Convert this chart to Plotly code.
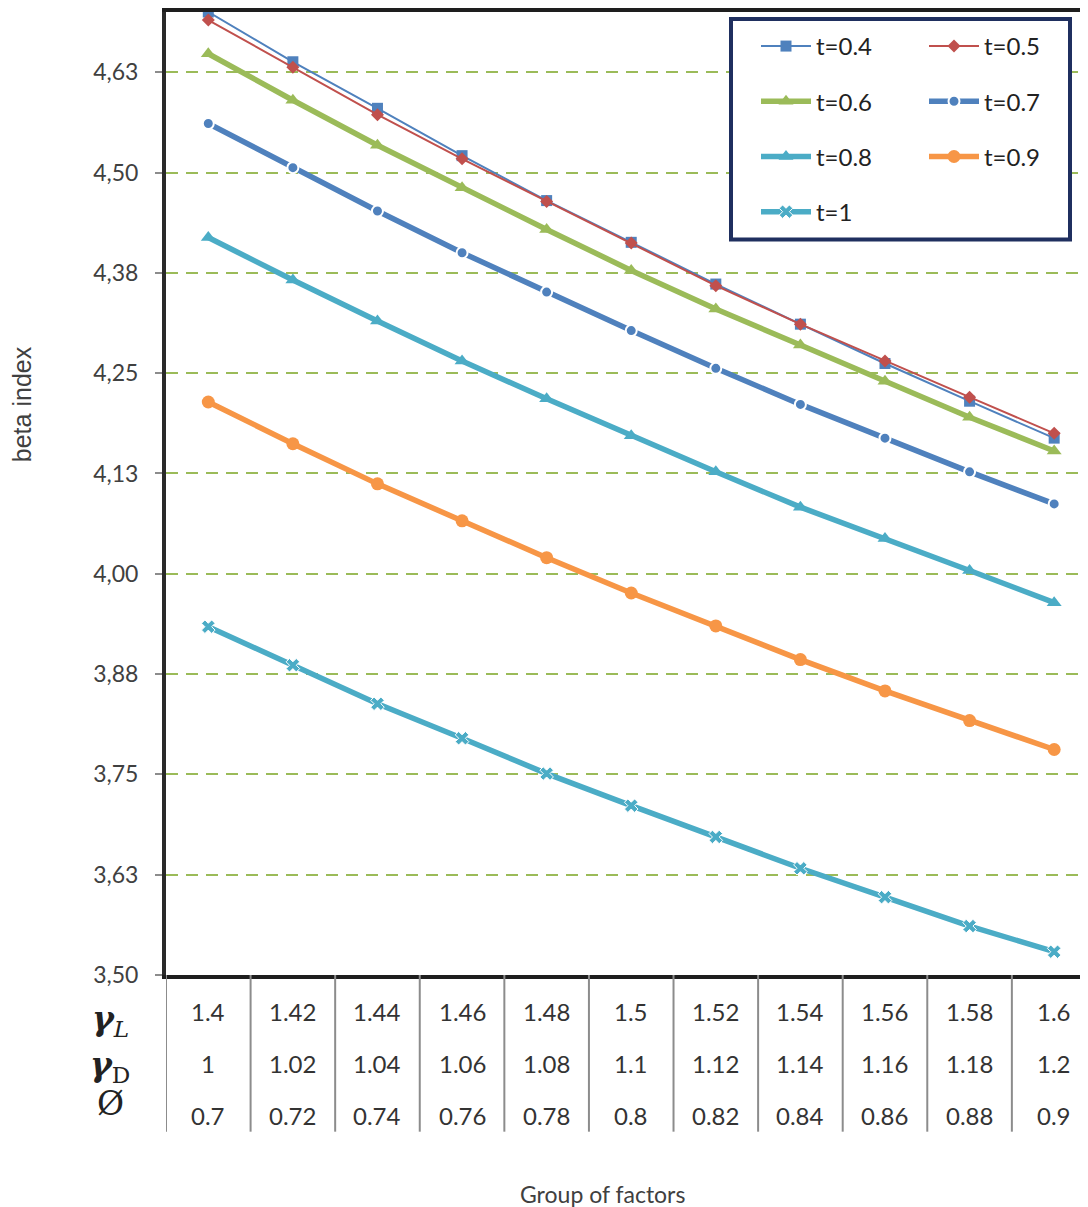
import plotly.graph_objects as go

# ---------------- data ----------------
x_idx = list(range(11))
gamma_L = ["1.4", "1.42", "1.44", "1.46", "1.48", "1.5", "1.52", "1.54", "1.56", "1.58", "1.6"]
gamma_D = ["1", "1.02", "1.04", "1.06", "1.08", "1.1", "1.12", "1.14", "1.16", "1.18", "1.2"]
phi = ["0.7", "0.72", "0.74", "0.76", "0.78", "0.8", "0.82", "0.84", "0.86", "0.88", "0.9"]

t04 = [4.700, 4.638, 4.580, 4.521, 4.465, 4.413, 4.361, 4.311, 4.262, 4.215, 4.169]
t05 = [4.690, 4.631, 4.572, 4.517, 4.464, 4.412, 4.359, 4.311, 4.265, 4.220, 4.175]
t06 = [4.648, 4.590, 4.534, 4.481, 4.429, 4.378, 4.330, 4.285, 4.240, 4.195, 4.153]
t07 = [4.561, 4.506, 4.452, 4.400, 4.351, 4.303, 4.256, 4.211, 4.169, 4.127, 4.087]
t08 = [4.419, 4.366, 4.315, 4.265, 4.218, 4.172, 4.127, 4.083, 4.044, 4.004, 3.964]
t09 = [4.214, 4.162, 4.112, 4.066, 4.020, 3.976, 3.935, 3.893, 3.854, 3.817, 3.781]
t10 = [3.934, 3.886, 3.838, 3.795, 3.751, 3.711, 3.672, 3.633, 3.597, 3.561, 3.529]

y_tickvals = [3.5, 3.625, 3.75, 3.875, 4.0, 4.125, 4.25, 4.375, 4.5, 4.625]
y_ticktext = ["3,50", "3,63", "3,75", "3,88", "4,00", "4,13", "4,25", "4,38", "4,50", "4,63"]

FONT = "Lato"
TXT = "#404040"

# ---------------- figure ----------------
OFF = 8  # page body margin
W, H = 1088 - OFF, 1207 - OFF
ML, MR, MT, MB = 166 - OFF, 0, 10 - OFF, 232
PW = W - ML - MR
PH = H - MT - MB
X_RANGE = [-0.5, 10.4]

def px_x(p):  # screen pixel -> paper x
    return (p - OFF - ML) / PW

def px_y(p):  # screen pixel -> paper y
    return (H - MB - (p - OFF)) / PH

BOTTOM = 975  # screen pixel of plot bottom

series = [
    ("t=0.4", t04, "#4F81BD", 2, dict(symbol="square", size=11), "legend"),
    ("t=0.5", t05, "#C0504D", 2, dict(symbol="diamond", size=10), "legend2"),
    ("t=0.6", t06, "#9BBB59", 5.5, dict(symbol="triangle-up", size=13), "legend"),
    ("t=0.7", t07, "#4F81BD", 5.5, dict(symbol="circle", size=11, line=dict(color="white", width=2)), "legend2"),
    ("t=0.8", t08, "#4BACC6", 5.5, dict(symbol="triangle-up", size=13), "legend"),
    ("t=0.9", t09, "#F79646", 5.5, dict(symbol="circle", size=13), "legend2"),
    ("t=1", t10, "#4BACC6", 5.5, dict(symbol="x", size=12, line=dict(color="white", width=1)), "legend"),
]

fig = go.Figure()
for name, ys, col, lw, mk, lg in series:
    mk = dict(mk)
    mk["color"] = col
    fig.add_trace(go.Scatter(
        x=x_idx, y=ys, name=name, mode="lines+markers",
        line=dict(color=col, width=lw), marker=mk,
        legend=lg, legendgroup=name, cliponaxis=False,
    ))

# legend box
fig.add_shape(type="rect", xref="paper", yref="paper",
              x0=px_x(731), x1=px_x(1070), y0=px_y(238), y1=px_y(17),
              line=dict(color="#1F2F5F", width=4), fillcolor="white", layer="above")

# table vertical lines
for i in range(12):
    fig.add_shape(type="line", xref="x", yref="paper",
                  x0=i - 0.5, x1=i - 0.5, y0=0, y1=px_y(1132),
                  line=dict(color="#8C8C8C", width=2))

annotations = []
rows = [(gamma_L, 1011), (gamma_D, 1063), (phi, 1115)]
for vals, ypx in rows:
    for i, v in enumerate(vals):
        annotations.append(dict(x=x_idx[i], xref="x", y=0, yref="paper",
                                yshift=-(ypx - BOTTOM), yanchor="middle", xanchor="center",
                                text=v, showarrow=False,
                                font=dict(family=FONT, size=24, color="#333333")))

row_labels = [("<b><i>γ</i></b><i><sub>L</sub></i>", 1020), ("<b><i>γ</i></b><sub>D</sub>", 1066), ("Ø", 1103)]
for txt, ypx in row_labels:
    annotations.append(dict(x=0, xref="paper", xshift=-56, y=0, yref="paper",
                            yshift=-(ypx - BOTTOM), yanchor="middle", xanchor="center",
                            text=txt, showarrow=False,
                            font=dict(family="DejaVu Serif", size=33, color="#222222")))

annotations.append(dict(x=px_x(602), xref="paper", y=0, yref="paper", yshift=-(1194 - BOTTOM),
                        yanchor="middle", xanchor="center", text="Group of factors", showarrow=False,
                        font=dict(family=FONT, size=23, color=TXT)))
annotations.append(dict(x=0, xref="paper", xshift=-(166 - 22), y=px_y(403), yref="paper",
                        yanchor="middle", xanchor="center", text="beta index", textangle=-90,
                        showarrow=False, font=dict(family="Liberation Sans", size=25, color=TXT)))

fig.update_layout(
    width=W, height=H,
    margin=dict(l=ML, r=MR, t=MT, b=MB),
    paper_bgcolor="white", plot_bgcolor="white",
    font=dict(family=FONT, size=23, color=TXT),
    annotations=annotations,
    legend=dict(x=px_x(756), y=px_y(22), xanchor="left", yanchor="top",
                bgcolor="rgba(0,0,0,0)", borderwidth=0, tracegroupgap=21, itemwidth=50,
                font=dict(family=FONT, size=24, color="#222222")),
    legend2=dict(x=px_x(924), y=px_y(22), xanchor="left", yanchor="top",
                 bgcolor="rgba(0,0,0,0)", borderwidth=0, tracegroupgap=21, itemwidth=50,
                 font=dict(family=FONT, size=24, color="#222222")),
    xaxis=dict(range=X_RANGE, showgrid=False, zeroline=False, showticklabels=False,
               ticks="", showline=True, mirror=True, linecolor="#1E1E1E", linewidth=4),
    yaxis=dict(range=[3.5, 4.70], tickvals=y_tickvals, ticktext=y_ticktext,
               showgrid=True, gridcolor="#9BBB59", gridwidth=2, griddash="12px,8px",
               zeroline=False, showline=True, linecolor="#2A2A2A", linewidth=4,
               ticks="outside", ticklen=7, tickcolor="#8C8C8C", tickwidth=2,
               ticklabelstandoff=12, tickfont=dict(family=FONT, size=23, color=TXT)),
)

fig.write_html("out.html")
